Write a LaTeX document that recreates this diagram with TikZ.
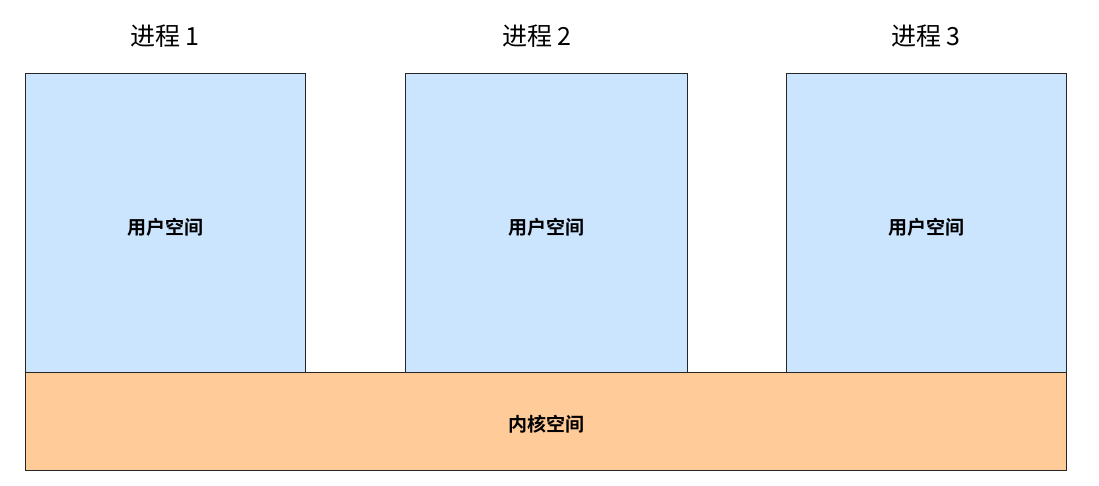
\documentclass[tikz,border=0pt]{standalone}
\usepackage{fontspec}
\newfontfamily\cjk{Noto Sans CJK SC}
\newfontfamily\cjkb{Noto Sans CJK SC Bold}
\definecolor{ublue}{HTML}{CCE5FF}
\definecolor{korange}{HTML}{FFCC99}
\begin{document}
\begin{tikzpicture}[x=1pt,y=-1pt,
  box/.style={draw=black!85,line width=1.4pt,inner sep=0pt,anchor=north west},
  ttl/.style={font=\cjk\fontsize{25}{30}\selectfont},
  lbl/.style={font=\cjkb\fontsize{19}{22}\selectfont}]
\useasboundingbox (0,0) rectangle (1099,485);
\node[box,fill=ublue,minimum width=280pt,minimum height=299pt] (u1) at (25,73) {};
\node[box,fill=ublue,minimum width=282pt,minimum height=299pt] (u2) at (405,73) {};
\node[box,fill=ublue,minimum width=280pt,minimum height=299pt] (u3) at (786,73) {};
\node[box,fill=korange,minimum width=1041pt,minimum height=98pt] (k) at (25,372) {};
\node[lbl] at ([yshift=-4pt]u1.center) {用户空间};
\node[lbl] at ([yshift=-4pt]u2.center) {用户空间};
\node[lbl] at ([yshift=-4pt]u3.center) {用户空间};
\node[lbl] at ([yshift=-3pt]k.center) {内核空间};
\node[ttl] (t1) at (165,36) {进程 1};
\node[ttl] (t2) at (537,36) {进程 2};
\node[ttl] (t3) at (926,36) {进程 3};
\end{tikzpicture}
\end{document}
